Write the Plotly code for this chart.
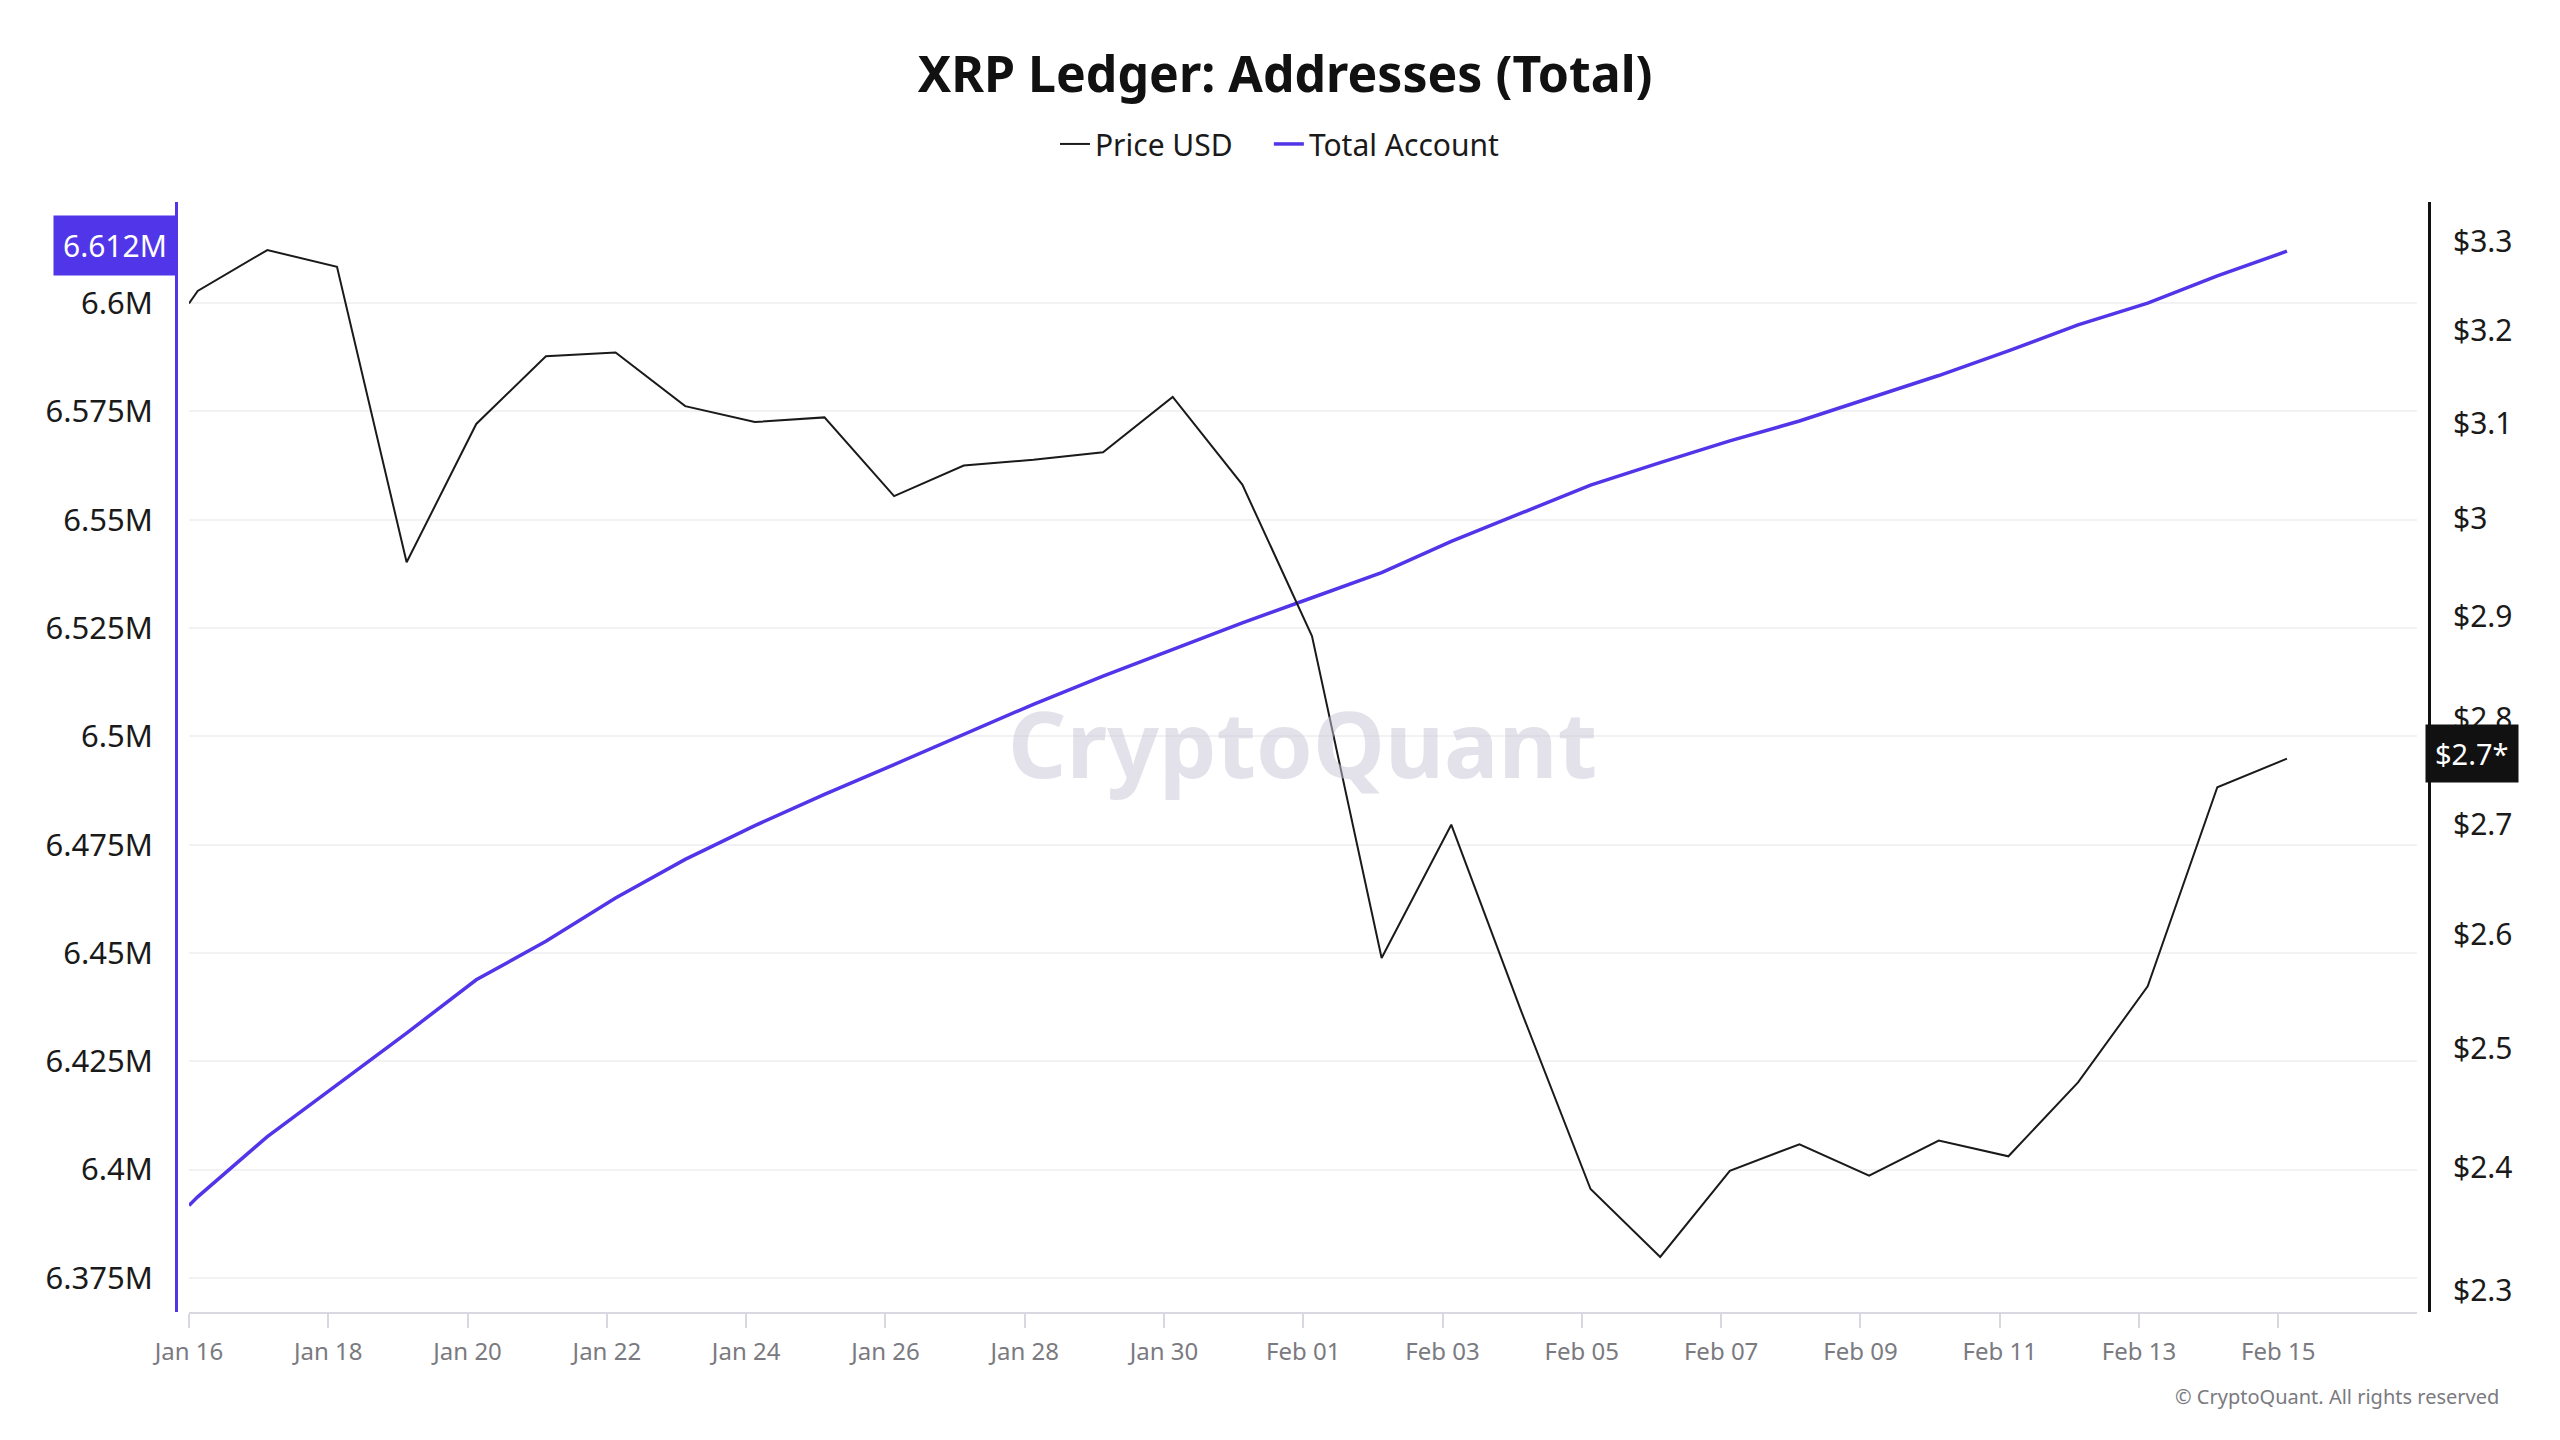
import plotly.graph_objects as go
import numpy as np
import pandas as pd

# first point sits at midnight, the daily points a few hours later
times = ["2025-01-16 00:00"] + [d.strftime("%Y-%m-%d %H:%M") for d in pd.date_range("2025-01-16 03:00", periods=31, freq="D")]

price_usd = [3.230, 3.244, 3.290, 3.271, 2.955, 3.099, 3.172, 3.176, 3.118, 3.101,
             3.106, 3.023, 3.055, 3.061, 3.069, 3.128, 3.035, 2.881, 2.579, 2.700,
             2.533, 2.382, 2.327, 2.397, 2.419, 2.393, 2.422, 2.409, 2.471, 2.554,
             2.735, 2.762]

total_account = [6.3917, 6.3937, 6.4076, 6.4196, 6.4315, 6.4438, 6.4527, 6.4627, 6.4716, 6.4794,
                 6.4866, 6.4935, 6.5004, 6.5074, 6.5139, 6.5200, 6.5262, 6.5320, 6.5378, 6.5450,
                 6.5515, 6.5580, 6.5632, 6.5682, 6.5728, 6.5780, 6.5833, 6.5890, 6.5950, 6.6000,
                 6.6063, 6.6120]
total_account = [v * 1e6 for v in total_account]

left_ticks = [6.375, 6.4, 6.425, 6.45, 6.475, 6.5, 6.525, 6.55, 6.575, 6.6]
left_labels = ["6.375M", "6.4M", "6.425M", "6.45M", "6.475M", "6.5M", "6.525M", "6.55M", "6.575M", "6.6M"]
right_ticks = [2.3, 2.4, 2.5, 2.6, 2.7, 2.8, 2.9, 3.0, 3.1, 3.2, 3.3]
right_labels = ["$2.3", "$2.4", "$2.5", "$2.6", "$2.7", "$2.8", "$2.9", "$3", "$3.1", "$3.2", "$3.3"]

PURPLE = "#5135e8"
FONT = "Noto Sans"
GAP = "&nbsp;" * 4  # extra room between legend entries

fig = go.Figure()
fig.add_trace(go.Scatter(x=times, y=price_usd, name="Price USD" + GAP, mode="lines",
                         line=dict(color="#1a1a1a", width=2), yaxis="y2"))
fig.add_trace(go.Scatter(x=times, y=total_account, name="Total Account", mode="lines",
                         line=dict(color=PURPLE, width=3.5), yaxis="y"))

fig.update_layout(
    width=2560, height=1440,
    margin=dict(l=176, r=131, t=202, b=128),
    paper_bgcolor="white", plot_bgcolor="white",
    font=dict(family=FONT, color="#1a1a1a"),
    title=dict(text="<b>XRP Ledger: Addresses (Total)</b>", x=0.502, y=0.9486,
               xanchor="center", yanchor="middle", font=dict(size=50, color="#111111")),
    legend=dict(orientation="h", x=0.49, y=1.0523, xanchor="center", yanchor="middle",
                font=dict(size=30, color="#1a1a1a"), itemwidth=30),
    showlegend=True,
    xaxis=dict(domain=[0.00577, 0.9947], range=["2025-01-16", "2025-02-16 23:50"],
               tick0="2025-01-16", dtick=2 * 86400000, tickformat="%b %d",
               showgrid=False, showline=True, linecolor="#d8d8e0", linewidth=2,
               ticks="outside", ticklen=14, tickcolor="#d8d8e0", tickwidth=2,
               ticklabelstandoff=3,
               tickfont=dict(size=24, color="#7a7a80"), zeroline=False),
    yaxis=dict(range=[6.36711e6, 6.62336e6], anchor="free", position=0,
               tickvals=[v * 1e6 for v in left_ticks], ticktext=left_labels,
               tickfont=dict(size=31, color="#1a1a1a"), ticklabelstandoff=16,
               showline=True, linecolor=PURPLE, linewidth=3,
               showgrid=True, gridcolor="#f2f2f4", gridwidth=2, zeroline=False),
    yaxis2=dict(type="log", range=[0.35858, 0.52437], overlaying="y",
                side="right", anchor="free", position=1,
                tickvals=right_ticks, ticktext=right_labels,
                tickfont=dict(size=30, color="#1a1a1a"), ticklabelstandoff=16,
                showline=True, linecolor="#111111", linewidth=3,
                showgrid=False, zeroline=False),
)

# watermark
fig.add_annotation(text="<b>CryptoQuant</b>", xref="paper", yref="paper", x=0.4998, y=0.513,
                   showarrow=False, font=dict(size=91, color="rgba(200,198,214,0.5)", family=FONT))

# last value labels
fig.add_annotation(text="6.612M", xref="paper", yref="y", x=0, y=total_account[-1],
                   xanchor="right", yanchor="middle", showarrow=False, xshift=1, yshift=6,
                   bgcolor=PURPLE, borderpad=9, font=dict(size=30, color="white"))
fig.add_annotation(text="$2.7*", xref="paper", yref="y2", x=1, y=np.log10(price_usd[-1]),
                   xanchor="left", yanchor="middle", showarrow=False, xshift=-4, yshift=5,
                   bgcolor="#111111", borderpad=9, font=dict(size=29, color="white"))

fig.add_annotation(text="© CryptoQuant. All rights reserved", xref="paper", yref="paper",
                   x=1.032, y=-0.0757, xanchor="right", yanchor="middle", showarrow=False,
                   font=dict(size=20, color="#7a7a80"))

fig.write_html("out.html", config={"displayModeBar": False},
               post_script="document.body.style.margin='0px';")
